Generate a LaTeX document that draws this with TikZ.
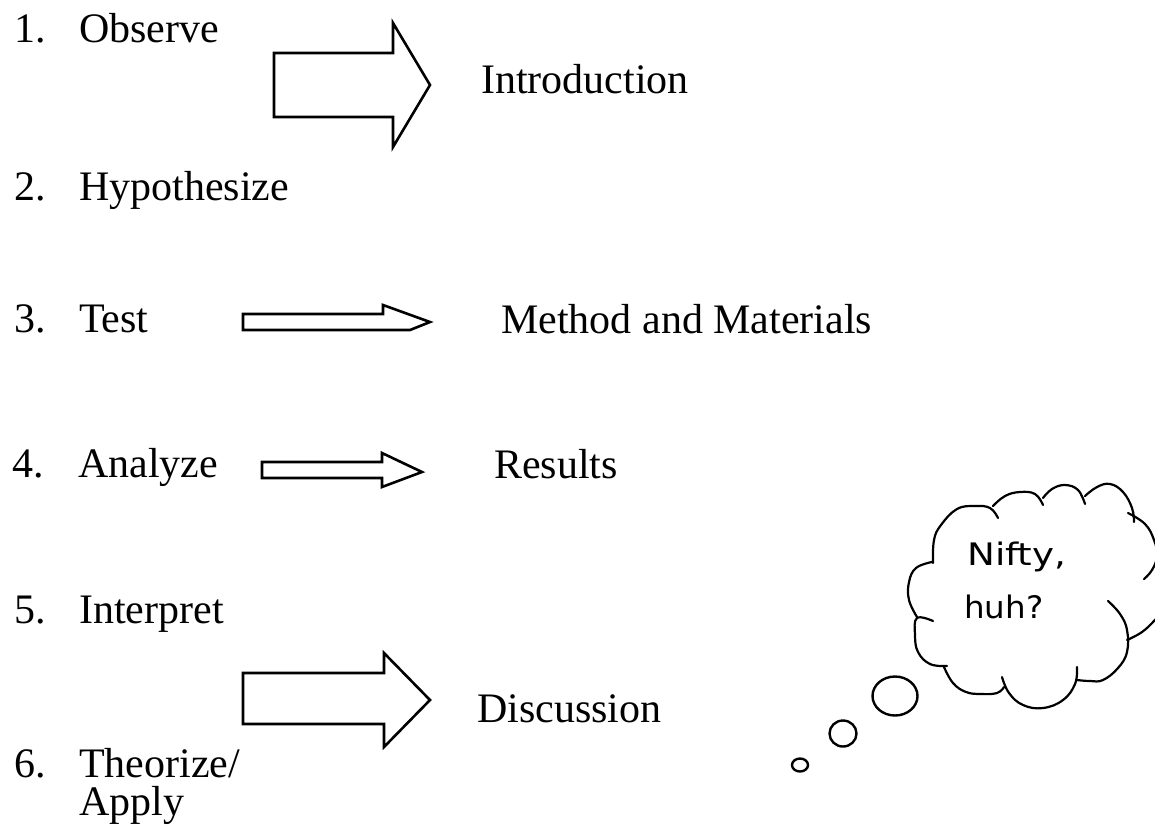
\documentclass[tikz,border=0pt]{standalone}
\usepackage{fontspec}
\setmainfont{Liberation Serif}
\newfontfamily\handfont{DejaVu Sans}
\begin{document}
\begin{tikzpicture}[x=1pt,y=-1pt,
  lbl/.style={anchor=base west,inner sep=0pt,font=\fontsize{42}{38}\selectfont},
  blk/.style={draw=black,line width=2.6pt,miter limit=10,line join=miter},
  cloudline/.style={draw=black,line width=2.2pt,line cap=round},
  bubble/.style={draw=black,line width=2.4pt},
  hand/.style={anchor=base west,inner sep=0pt,font=\handfont\fontsize{31}{31}\selectfont}]
\useasboundingbox (0,0) rectangle (1155,828);
\fill[white] (0,0) rectangle (1155,828);

% left column
\node[lbl] (n1) at (14,42) {1.};
\node[lbl] (s1) at (79,42) {Observe};
\node[lbl] (n2) at (14,200) {2.};
\node[lbl] (s2) at (79,200) {Hypothesize};
\node[lbl] (n3) at (14,332) {3.};
\node[lbl] (s3) at (79,332) {Test};
\node[lbl] (n4) at (12,477) {4.};
\node[lbl] (s4) at (78,477) {Analyze};
\node[lbl] (n5) at (14,623) {5.};
\node[lbl] (s5) at (79,623) {Interpret};
\node[lbl] (n6) at (14,777) {6.};
\node[lbl] (s6) at (79,777) {Theorize/};
\node[lbl] (s6b) at (79,815) {Apply};

% right column
\node[lbl] (intro) at (481,93) {Introduction};
\node[lbl] (meth) at (501,333) {Method and Materials};
\node[lbl] (res) at (494,478) {Results};
\node[lbl] (disc) at (477,722) {Discussion};

% block arrows
\draw[blk] (274,53) -- (393,53) -- (393,23) -- (430,85) -- (393,147) -- (393,117) -- (274,117) -- cycle;
\draw[blk] (243,314) -- (383,314) -- (383,305) -- (430,322) -- (410,330) -- (243,330) -- cycle;
\draw[blk] (262,462) -- (382,462) -- (382,453) -- (422,472) -- (382,487) -- (382,478) -- (262,478) -- cycle;
\draw[blk] (243,673) -- (384,673) -- (384,653) -- (430,700) -- (384,747) -- (384,724) -- (243,724) -- cycle;

% thought bubbles
\draw[bubble] (800,765) ellipse [x radius=8, y radius=6.5];
\draw[bubble] (843,733.5) ellipse [x radius=13.5, y radius=13];
\draw[bubble] (895,696) ellipse [x radius=22.5, y radius=19.5];

% cloud
\begin{scope}
\clip (0,0) rectangle (1155,828);
\draw[cloudline] plot[smooth,tension=0.7] coordinates {(933,563) (934,540) (941,525) (957,509) (975,506) (990,508) (998,518)};
\draw[cloudline] plot[smooth,tension=0.7] coordinates {(993,506) (1005,496) (1020,492) (1035,494) (1043,505)};
\draw[cloudline] plot[smooth,tension=0.7] coordinates {(1043,498) (1052,489) (1065,485) (1078,490) (1085,504)};
\draw[cloudline] plot[smooth,tension=0.7] coordinates {(1085,496) (1097,487) (1110,484) (1123,492) (1132,508) (1134,522)};
\draw[cloudline] plot[smooth,tension=0.7] coordinates {(1128,513) (1145,524) (1154,540) (1157,556) (1152,570) (1144,579)};
\draw[cloudline] plot[smooth,tension=0.7] coordinates {(1172,602) (1155,620) (1142,632) (1127,640)};
\draw[cloudline] plot[smooth,tension=0.7] coordinates {(1108,601) (1120,614) (1127,630) (1127,652) (1118,668) (1103,680) (1090,681) (1077,680)};
\draw[cloudline] plot[smooth,tension=0.7] coordinates {(1077,667) (1075,684) (1063,700) (1043,708) (1023,705) (1009,693) (1002,677)};
\draw[cloudline] plot[smooth,tension=0.7] coordinates {(1004,687) (997,693) (981,694) (966,692) (953,683) (944,667)};
\draw[cloudline] plot[smooth,tension=0.7] coordinates {(947,666) (930,664) (918,652) (915,635) (917,618) (933,621)};
\draw[cloudline] plot[smooth,tension=0.7] coordinates {(917,617) (909,600) (909,582) (916,568) (932,562)};
\end{scope}

\node[hand] (nifty) at (967,565) {\scalebox{1.2}[1]{Nifty,}};
\node[hand] (huh) at (964,618) {\scalebox{1.05}[1]{huh?}};
\end{tikzpicture}
\end{document}
